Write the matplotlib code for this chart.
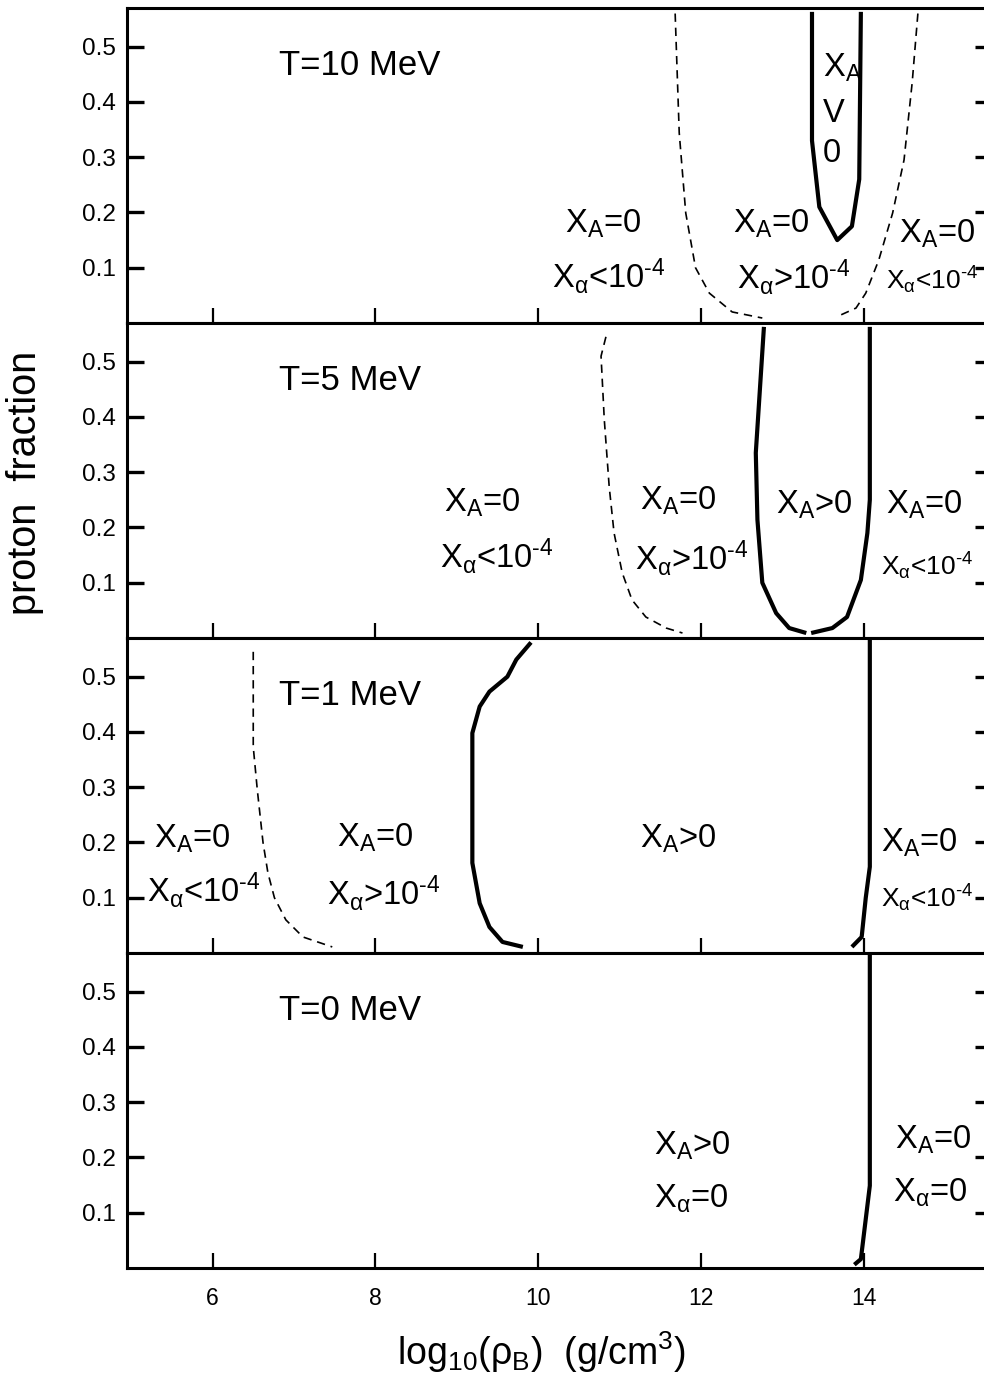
import matplotlib
matplotlib.use("Agg")
import matplotlib.pyplot as plt

plt.rcParams['font.family'] = ['Liberation Sans', 'DejaVu Sans']
plt.rcParams['mathtext.fontset'] = 'custom'
plt.rcParams['mathtext.rm'] = 'Liberation Sans'
plt.rcParams['mathtext.it'] = 'Liberation Sans'
plt.rcParams['mathtext.sf'] = 'Liberation Sans'
plt.rcParams['mathtext.default'] = 'regular'

# ---------------- data ----------------
temps = ["T=10 MeV", "T=5 MeV", "T=1 MeV", "T=0 MeV"]
x_ticks = [6, 8, 10, 12, 14]
y_ticks = [0.1, 0.2, 0.3, 0.4, 0.5]

# T = 10 MeV
t10_dash_left_x = [11.68, 11.73, 11.81, 11.93, 12.10, 12.38, 12.75]
t10_dash_left_y = [0.560, 0.344, 0.199, 0.100, 0.054, 0.020, 0.009]
t10_dash_right_x = [14.66, 14.59, 14.49, 14.35, 14.18, 14.02, 13.90, 13.66]
t10_dash_right_y = [0.560, 0.435, 0.295, 0.199, 0.114, 0.054, 0.027, 0.011]
t10_solid_x = [13.36, 13.36, 13.45, 13.67, 13.85, 13.94, 13.96]
t10_solid_y = [0.563, 0.330, 0.210, 0.150, 0.175, 0.260, 0.563]

# T = 5 MeV
t5_dash_x = [10.83, 10.77, 10.81, 10.87, 10.93, 11.03, 11.15, 11.32, 11.57, 11.77]
t5_dash_y = [0.545, 0.510, 0.395, 0.274, 0.190, 0.118, 0.069, 0.038, 0.018, 0.009]
t5_solid_left_x = [12.77, 12.67, 12.69, 12.75, 12.92, 13.08, 13.29]
t5_solid_left_y = [0.563, 0.335, 0.214, 0.100, 0.045, 0.018, 0.009]
t5_solid_right_x = [13.35, 13.61, 13.79, 13.96, 14.04, 14.07, 14.07]
t5_solid_right_y = [0.009, 0.018, 0.038, 0.105, 0.190, 0.250, 0.563]

# T = 1 MeV
t1_dash_x = [6.50, 6.50, 6.55, 6.62, 6.68, 6.76, 6.90, 7.11, 7.47]
t1_dash_y = [0.545, 0.373, 0.295, 0.200, 0.145, 0.100, 0.060, 0.029, 0.011]
t1_solid_left_x = [9.91, 9.73, 9.62, 9.40, 9.28, 9.19, 9.19, 9.28, 9.40, 9.56, 9.81]
t1_solid_left_y = [0.562, 0.531, 0.500, 0.473, 0.446, 0.398, 0.163, 0.090, 0.047, 0.020, 0.011]
t1_solid_right_x = [14.07, 14.07, 14.02, 13.97, 13.85]
t1_solid_right_y = [0.570, 0.156, 0.100, 0.029, 0.011]

# T = 0 MeV
t0_solid_x = [14.07, 14.07, 13.96, 13.88]
t0_solid_y = [0.570, 0.149, 0.016, 0.006]

# --------------- figure ---------------
W, H = 984, 1388
fig = plt.figure(figsize=(W / 100, H / 100), dpi=100)

left_px, right_px = 127, 992
top_px, bot_px = 8, 1268
ph = (bot_px - top_px) / 4.0

axes = []
for i in range(4):
    t = top_px + i * ph
    ax = fig.add_axes([left_px / W, 1 - (t + ph) / H, (right_px - left_px) / W, ph / H])
    axes.append(ax)

XL = (4.95, 15.57)
YL = (0.0, 0.57)

for i, ax in enumerate(axes):
    ax.set_xlim(*XL)
    ax.set_ylim(*YL)
    for s in ax.spines.values():
        s.set_linewidth(2.2)
    ax.set_yticks(y_ticks)
    ax.set_yticklabels([f"{v:.1f}" for v in y_ticks])
    ax.tick_params(axis='y', which='both', direction='in', left=True, right=True,
                   length=12, width=2.4, labelsize=17.5, pad=8)
    ax.set_xticks(x_ticks)
    ax.tick_params(axis='x', which='both', direction='in', bottom=True, top=False,
                   length=11, width=1.6, labelsize=16.5, pad=14)
    if i < 3:
        ax.set_xticklabels([])
    else:
        ax.set_xticklabels([str(v) for v in x_ticks])
    ax.text(6.82, 0.449, temps[i], fontsize=25, ha='left', va='baseline')

solid = dict(color='black', lw=3.0, solid_capstyle='butt', solid_joinstyle='round')
dash = dict(color='black', lw=1.2, linestyle=(0, (5, 3.5)))

# Panel T=10
a = axes[0]
a.plot(t10_dash_left_x, t10_dash_left_y, **dash)
a.plot(t10_dash_right_x, t10_dash_right_y, **dash)
a.plot(t10_solid_x, t10_solid_y, **solid)

# Panel T=5
a = axes[1]
a.plot(t5_dash_x, t5_dash_y, **dash)
a.plot(t5_solid_left_x, t5_solid_left_y, **solid)
a.plot(t5_solid_right_x, t5_solid_right_y, **solid)

# Panel T=1
a = axes[2]
a.plot(t1_dash_x, t1_dash_y, **dash)
a.plot(t1_solid_left_x, t1_solid_left_y, **solid)
a.plot(t1_solid_right_x, t1_solid_right_y, **solid)

# Panel T=0
a = axes[3]
a.plot(t0_solid_x, t0_solid_y, **solid)

XA0 = r'X$_A$=0'
XAg = r'X$_A$>0'
XaL = 'X$_\\alpha$<10$^{\u2010 4}$'.replace(' ', '')
XaG = 'X$_\\alpha$>10$^{\u2010 4}$'.replace(' ', '')
Xa0 = r'X$_\alpha$=0'
big = 23.5
small = 19

def lab(ax, x, y, s, size=big, ha='center'):
    ax.text(x, y, s, fontsize=size, ha=ha, va='baseline', clip_on=False)

# T=10 labels
a = axes[0]
lab(a, 10.80, 0.163, XA0)
lab(a, 10.86, 0.063, XaL)
lab(a, 12.86, 0.163, XA0)
lab(a, 13.14, 0.062, XaG)
lab(a, 14.90, 0.145, XA0)
lab(a, 14.27, 0.060, XaL, size=small, ha='left')
lab(a, 13.49, 0.446, r'X$_A$', ha='left')
lab(a, 13.49, 0.364, 'V', ha='left')
lab(a, 13.49, 0.292, '0', ha='left')

# T=5 labels
a = axes[1]
lab(a, 9.31, 0.228, XA0)
lab(a, 9.49, 0.127, XaL)
lab(a, 11.72, 0.232, XA0)
lab(a, 11.88, 0.123, XaG)
lab(a, 13.39, 0.226, XAg)
lab(a, 14.74, 0.226, XA0)
lab(a, 14.21, 0.114, XaL, size=small, ha='left')

# T=1 labels
a = axes[2]
lab(a, 5.75, 0.190, XA0)
lab(a, 5.89, 0.092, XaL)
lab(a, 8.00, 0.192, XA0)
lab(a, 8.10, 0.087, XaG)
lab(a, 11.72, 0.190, XAg)
lab(a, 14.68, 0.183, XA0)
lab(a, 14.21, 0.083, XaL, size=small, ha='left')

# T=0 labels
a = axes[3]
lab(a, 11.89, 0.206, XAg)
lab(a, 11.88, 0.110, Xa0)
lab(a, 14.85, 0.216, XA0)
lab(a, 14.81, 0.120, Xa0)

fig.text(25 / W, 1 - 483 / H, 'proton  fraction', rotation=90, fontsize=28.5,
         ha='center', va='center')
fig.text(541 / W, 1 - 1352 / H, r'log$_{10}$($\rho_B$)  (g/cm$^3$)', fontsize=27,
         ha='center', va='center')

fig.savefig('out.png', dpi=100)
